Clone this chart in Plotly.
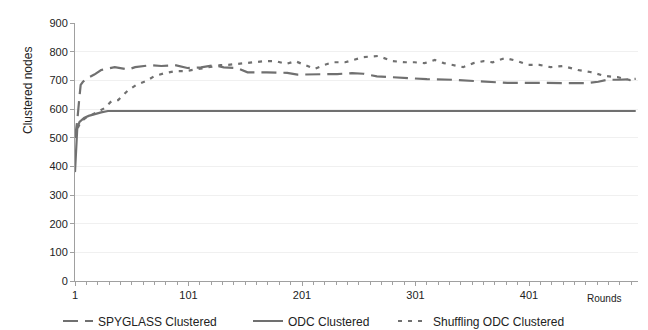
import plotly.graph_objects as go

# Data
spy_rounds = [1, 3, 5, 6, 8, 12, 18, 24, 36, 48, 54, 68, 77, 89, 100, 112, 124, 132, 144, 153, 170, 188, 197, 215, 232, 245, 255, 267, 289, 311, 333, 356, 382, 408, 430, 450, 462, 470, 480, 495]
spy_vals   = [499, 560, 645, 684, 695, 708, 720, 736, 746, 738, 746, 753, 750, 753, 743, 745, 753, 745, 743, 728, 728, 726, 720, 720, 722, 725, 723, 714, 708, 704, 702, 697, 691, 691, 690, 690, 695, 702, 702, 705]

odc_rounds = [1, 2, 3, 5, 9, 13, 18, 24, 30, 60, 150, 300, 495]
odc_vals   = [380, 480, 534, 555, 569, 576, 582, 588, 593, 593, 593, 593, 593]

shf_rounds = [1, 3, 6, 10, 15, 20, 27, 33, 39, 48, 55, 64, 71, 80, 89, 98, 105, 115, 129, 136, 151, 168, 178, 187, 195, 204, 212, 221, 228, 239, 247, 255, 268, 281, 292, 300, 309, 318, 326, 334, 343, 352, 361, 369, 380, 391, 400, 410, 420, 431, 444, 455, 468, 479, 490, 495]
shf_vals   = [500, 530, 555, 568, 578, 588, 603, 627, 631, 666, 684, 698, 715, 725, 732, 732, 736, 743, 753, 754, 760, 767, 767, 757, 767, 754, 740, 754, 763, 763, 771, 781, 785, 767, 763, 763, 760, 771, 760, 754, 746, 760, 767, 763, 778, 767, 754, 754, 746, 750, 736, 729, 715, 711, 701, 703]

x_tick_vals = [1, 101, 201, 301, 401]
x_tick_text = ["1", "101", "201", "301", "401"]
y_tick_vals = [0, 100, 200, 300, 400, 500, 600, 700, 800, 900]

line_color = "#707070"
font = "Liberation Sans, Arial, sans-serif"

L, R, T, B = 67, 18, 15, 57
PW, PH = 648 - L - R, 330 - T - B

def px_x(px):
    return (px - L) / PW

def px_y(py):
    return (330 - B - py) / PH

fig = go.Figure()
fig.add_trace(go.Scatter(x=spy_rounds, y=spy_vals, mode="lines", name="SPYGLASS Clustered",
                         line=dict(color=line_color, width=2.2, dash="15px,7px"), legend="legend"))
fig.add_trace(go.Scatter(x=odc_rounds, y=odc_vals, mode="lines", name="ODC Clustered",
                         line=dict(color=line_color, width=2.2), legend="legend2"))
fig.add_trace(go.Scatter(x=shf_rounds, y=shf_vals, mode="lines", name="Shuffling ODC Clustered",
                         line=dict(color=line_color, width=2.2, dash="4px,6px"), legend="legend3"))

leg_common = dict(orientation="h", xanchor="left", yanchor="middle", y=px_y(313),
                  font=dict(size=12, color="#222222"), bgcolor="rgba(0,0,0,0)", itemwidth=30)

fig.update_layout(
    width=648, height=330,
    margin=dict(l=L, r=R, t=T, b=B, autoexpand=False),
    paper_bgcolor="white", plot_bgcolor="white",
    font=dict(family=font, size=11, color="#222222"),
    showlegend=True,
    legend=dict(x=px_x(50), **leg_common),
    legend2=dict(x=px_x(240), **leg_common),
    legend3=dict(x=px_x(385), **leg_common),
    xaxis=dict(range=[1, 497], showgrid=False, zeroline=False,
               showline=True, linecolor="#a0a0a0", linewidth=1,
               tickmode="array", tickvals=x_tick_vals, ticktext=x_tick_text,
               ticks="outside", ticklen=4, tickcolor="#a0a0a0",
               minor=dict(dtick=10, tick0=1, ticks="outside", ticklen=3, tickcolor="#a0a0a0", showgrid=False),
               tickfont=dict(size=11)),
    yaxis=dict(range=[0, 900], showgrid=True, gridcolor="#f0f0f0", gridwidth=1, zeroline=False,
               showline=True, linecolor="#a0a0a0", linewidth=1,
               tickvals=y_tick_vals, ticks="outside", ticklen=4, tickcolor="#a0a0a0",
               tickfont=dict(size=11)),
)

fig.add_annotation(text="Clustered nodes", xref="paper", yref="paper",
                   x=px_x(20), y=px_y(83), xanchor="center", yanchor="middle",
                   showarrow=False, textangle=-90, font=dict(size=12))
fig.add_annotation(text="Rounds", xref="paper", yref="paper",
                   x=px_x(615), y=px_y(283), yanchor="top",
                   showarrow=False, font=dict(size=10))

fig.write_html("out.html")
